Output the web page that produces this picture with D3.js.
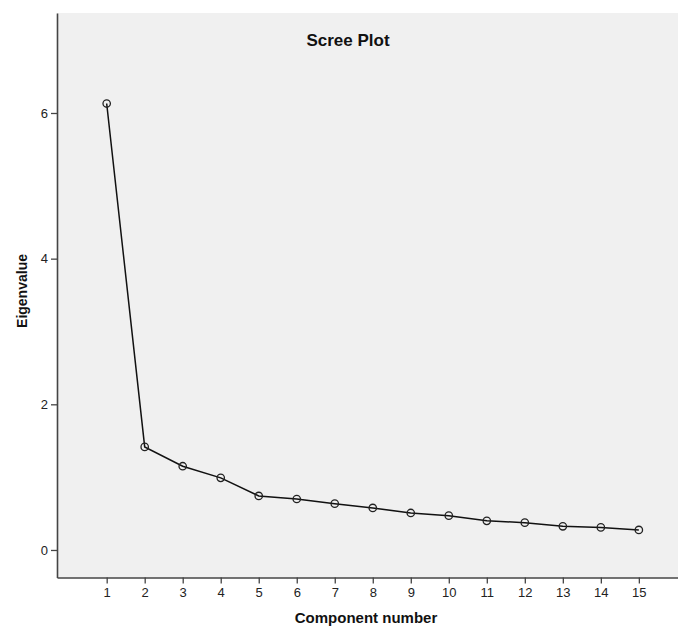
<!DOCTYPE html>
<html><head><meta charset="utf-8">
<script src="https://cdn.jsdelivr.net/npm/d3@7"></script>
<style>body{margin:0;background:#fff}svg{display:block}text{font-family:"Liberation Sans",Arial,sans-serif}</style>
</head><body>
<svg id="c" width="678" height="628"></svg>
<script>
const components = [1,2,3,4,5,6,7,8,9,10,11,12,13,14,15];
const eigenvalues = [6.13,1.415,1.15,0.99,0.742,0.70,0.636,0.577,0.508,0.471,0.40,0.375,0.325,0.31,0.275];
const yTicks = [0,2,4,6];
const xTicks = components;

const svg = d3.select("#c");
const L=57, R=678, T=13, B=577.5;
const x = d3.scaleLinear().domain([-0.307,16.03]).range([L,R]);
const y = d3.scaleLinear().domain([-0.378,7.373]).range([B,T]);

svg.append("rect").attr("x",L).attr("y",T).attr("width",R-L).attr("height",B-T).attr("fill","#f0f0f0");

const xa = svg.append("g").attr("transform",`translate(0,${B})`)
  .call(d3.axisBottom(x).tickValues(xTicks).tickSize(6).tickSizeOuter(0).tickPadding(4));
const ya = svg.append("g").attr("transform",`translate(${L},0)`)
  .call(d3.axisLeft(y).tickValues(yTicks).tickSize(6).tickSizeOuter(0).tickPadding(3));
[xa,ya].forEach(a=>{
  a.select(".domain").attr("stroke","#444").attr("stroke-width",1.6);
  a.selectAll(".tick line").attr("stroke","#444").attr("stroke-width",1.3);
  a.selectAll(".tick text").attr("fill","#222").style("font-size","13px").style("font-family","'Liberation Sans',Arial,sans-serif");
});

const pts = components.map((c,i)=>[c,eigenvalues[i]]);
svg.append("path").datum(pts)
  .attr("d",d3.line().x(d=>x(d[0])).y(d=>y(d[1])))
  .attr("fill","none").attr("stroke","#111").attr("stroke-width",1.5);
svg.append("g").selectAll("circle").data(pts).join("circle")
  .attr("cx",d=>x(d[0])).attr("cy",d=>y(d[1])).attr("r",3.7)
  .attr("fill","none").attr("stroke","#222").attr("stroke-width",1.3);

svg.append("text").attr("x",348).attr("y",46).attr("text-anchor","middle")
  .style("font-size","17px").style("font-weight","bold").attr("fill","#111").text("Scree Plot");
svg.append("text").attr("x",366).attr("y",623).attr("text-anchor","middle")
  .style("font-size","15px").style("font-weight","bold").attr("fill","#111").text("Component number");
svg.append("text").attr("transform","translate(27,291) rotate(-90)").attr("text-anchor","middle")
  .style("font-size","14px").style("font-weight","bold").attr("fill","#111").text("Eigenvalue");
</script>
</body></html>
